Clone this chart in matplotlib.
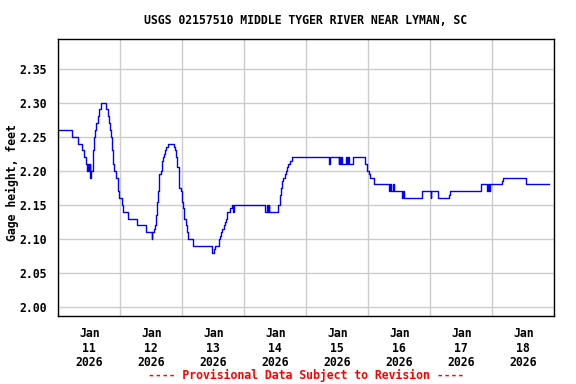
import matplotlib
matplotlib.use("Agg")
import matplotlib.pyplot as plt
import matplotlib.dates as mdates
import pandas as pd

# gage height breakpoints: hours after Jan 11 00:00, value holds until next point
hours = [0, 5.4, 7.6, 9.3, 10.1, 10.6, 11.2, 11.5, 11.8, 12.1, 12.4, 12.6,
         12.9, 13.3, 13.7, 13.9, 14.3, 14.7, 15.2, 15.9, 16.6, 18.3, 19.1,
         19.5, 19.9, 20.3, 20.8, 21.0, 21.3, 21.7, 22.2, 23.0, 23.6, 24.5,
         25.2, 27.1, 30.6, 33.8, 36.3, 36.4, 37.0, 37.5, 37.9, 38.3, 38.7,
         39.1, 39.6, 40.0, 40.4, 40.8, 41.2, 41.8, 42.3, 44.9, 45.2, 45.7,
         46.1, 46.6, 46.8, 47.4, 47.7, 48.1, 48.6, 49.3, 49.7, 50.2, 52.3,
         59.6, 60.4, 60.8, 62.3, 62.7, 63.1, 63.5, 64.0, 64.4, 64.8, 65.4,
         66.6, 67.1, 67.5, 67.9, 80.0, 80.9, 81.0, 81.4, 81.5, 85.2, 85.8,
         86.2, 86.7, 87.1, 87.6, 88.0, 88.4, 88.8, 89.7, 90.3, 104.9, 105.2,
         108.6, 108.8, 109.2, 109.6, 110.0, 111.5, 111.7, 112.2, 112.4, 113.9,
         118.8, 119.6, 120.1, 120.6, 122.3, 128.1, 128.4, 128.8, 129.5, 130.0,
         133.1, 133.5, 133.9, 140.9, 144.1, 144.4, 147.1, 151.2, 151.5, 163.6,
         163.8, 165.8, 166.3, 166.6, 167.1, 171.9, 172.2, 181.1, 189.8]
gage = [2.26, 2.25, 2.24, 2.23, 2.22, 2.21, 2.20, 2.21, 2.20, 2.21, 2.19, 2.20,
        2.20, 2.23, 2.24, 2.25, 2.26, 2.27, 2.28, 2.29, 2.30, 2.29, 2.28,
        2.27, 2.26, 2.25, 2.23, 2.22, 2.21, 2.20, 2.19, 2.17, 2.16, 2.15,
        2.14, 2.13, 2.12, 2.11, 2.10, 2.11, 2.115, 2.12, 2.135, 2.155, 2.17,
        2.195, 2.20, 2.215, 2.22, 2.225, 2.23, 2.235, 2.24, 2.235, 2.23, 2.22,
        2.205, 2.195, 2.175, 2.17, 2.155, 2.145, 2.13, 2.12, 2.11, 2.10, 2.09,
        2.08, 2.085, 2.09, 2.10, 2.105, 2.11, 2.115, 2.12, 2.125, 2.13, 2.14,
        2.145, 2.15, 2.14, 2.15, 2.14, 2.15, 2.14, 2.15, 2.14, 2.15, 2.165,
        2.175, 2.185, 2.19, 2.195, 2.20, 2.205, 2.21, 2.215, 2.22, 2.21, 2.22,
        2.21, 2.22, 2.21, 2.22, 2.21, 2.22, 2.21, 2.22, 2.21, 2.22,
        2.21, 2.20, 2.195, 2.19, 2.18, 2.17, 2.18, 2.17, 2.18, 2.17,
        2.16, 2.17, 2.16, 2.17, 2.16, 2.17, 2.16, 2.165, 2.17, 2.175,
        2.18, 2.17, 2.18, 2.17, 2.18, 2.185, 2.19, 2.18, 2.18]

start = pd.Timestamp("2026-01-11")
end = pd.Timestamp("2026-01-19")
times = start + pd.to_timedelta(hours, unit="h")

y_ticks = [2.00, 2.05, 2.10, 2.15, 2.20, 2.25, 2.30, 2.35]
title = "USGS 02157510 MIDDLE TYGER RIVER NEAR LYMAN, SC"

mono = {"family": "DejaVu Sans Mono", "weight": "bold", "size": 8.3}

fig = plt.figure(figsize=(5.76, 3.84), dpi=100)
ax = fig.add_axes([58.3 / 576, 1 - 316 / 384, 496 / 576, 276.7 / 384])

ax.plot(times, gage, color="#0000ff", lw=1.0, drawstyle="steps-post")

ax.set_xlim(start, end)
ax.set_ylim(1.987, 2.393)
ax.set_yticks(y_ticks)
ax.set_yticklabels(["%.2f" % v for v in y_ticks], fontdict=mono)

# labels at noon, grid at midnight
ax.xaxis.set_major_locator(mdates.HourLocator(byhour=[12]))
ax.xaxis.set_major_formatter(mdates.DateFormatter("%b\n%d\n%Y"))
ax.xaxis.set_minor_locator(mdates.DayLocator())
ax.tick_params(axis="x", which="major", length=0, pad=8)
ax.tick_params(axis="x", which="minor", length=0)
ax.tick_params(axis="y", length=0, pad=8)
for lab in ax.get_xticklabels(which="major"):
    lab.set_family("DejaVu Sans Mono")
    lab.set_weight("bold")
    lab.set_size(8.3)
    lab.set_linespacing(1.15)

ax.grid(True, which="minor", axis="x", color="#cccccc", lw=1)
ax.grid(True, which="major", axis="y", color="#cccccc", lw=1)
ax.set_axisbelow(True)
for s in ax.spines.values():
    s.set_linewidth(1.0)
    s.set_color("black")

fig.text(12 / 576, 1 - 183 / 384, "Gage height, feet", rotation=90,
         ha="center", va="center", **mono)
fig.text(306 / 576, 1 - 20 / 384, title, ha="center", va="center", **mono)
fig.text(306 / 576, 1 - 375 / 384, "---- Provisional Data Subject to Revision ----",
         ha="center", va="center", color="red", **mono)

fig.savefig("out.png", dpi=100)
